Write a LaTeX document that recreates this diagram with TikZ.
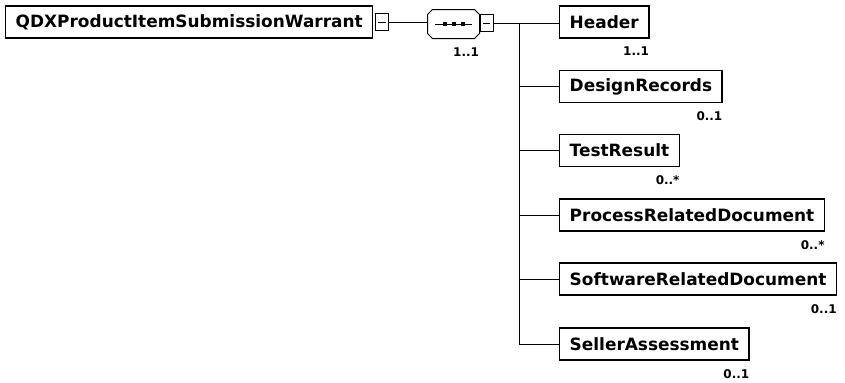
\documentclass[tikz,border=0pt]{standalone}
\usepackage{fontspec}
\setmainfont{DejaVu Sans}
\tikzset{every picture/.style={line width=0.75pt}}
\tikzset{
  elem/.style={draw, line width=1.1pt, fill=white, anchor=west, inner xsep=7.5pt, inner ysep=0pt, minimum height=24pt, font=\fontsize{12.7}{14}\selectfont\bfseries},
  occurs/.style={anchor=north east, inner sep=0pt, font=\fontsize{9}{10}\selectfont\bfseries},
  minusbox/.style={draw, fill=white, anchor=west, minimum width=10pt, minimum height=13pt, inner sep=0pt,
    path picture={\draw ([xshift=2.25pt]path picture bounding box.west) -- ([xshift=-2.25pt]path picture bounding box.east);}},
}
\begin{document}
\begin{tikzpicture}[x=0.75pt,y=0.75pt,yscale=-1,xscale=1]
\useasboundingbox (0,0) rectangle (845,382);

%Root element
\node [elem] (warrant) at (5,22) {QDXProductItemSubmissionWarrant};
\node [minusbox] (warrantminus) at ([xshift=1pt]warrant.east) {};

%Sequence compositor
\node [minimum width=38.25pt, minimum height=21pt, inner sep=0pt] (seq) at (453.5,24) {};
\draw [fill=white] ([xshift=3.75pt]seq.north west) -- ([xshift=-3.75pt]seq.north east) -- ([yshift=3.75pt]seq.north east) -- ([yshift=-3.75pt]seq.south east) -- ([xshift=-3.75pt]seq.south east) -- ([xshift=3.75pt]seq.south west) -- ([yshift=-3.75pt]seq.south west) -- ([yshift=3.75pt]seq.north west) -- cycle ;
\draw (435,24) -- (472,24) ;
\fill (443,22) rectangle (447,26) ;
\fill (452,22) rectangle (456,26) ;
\fill (461,22) rectangle (465,26) ;
\node [minusbox] (seqminus) at (seq.east |- 0,23) {};
\node [occurs] (seqocc) at ([yshift=6.5pt]seq.south east) {1..1};

%Child elements
\node [elem] (header) at (559,22) {Header};
\node [elem] (design) at (559,86.5) {DesignRecords};
\node [elem] (test) at (559,150.5) {TestResult};
\node [elem] (process) at (559,215) {ProcessRelatedDocument};
\node [elem] (software) at (559,279) {SoftwareRelatedDocument};
\node [elem] (seller) at (559,344) {SellerAssessment};

% Occurrence labels
\node [occurs] (headerocc) at ([yshift=6pt]header.south east) {1..1};
\node [occurs] (designocc) at ([yshift=6pt]design.south east) {0..1};
\node [occurs] (testocc) at ([yshift=6pt]test.south east) {0..*};
\node [occurs] (processocc) at ([yshift=6pt]process.south east) {0..*};
\node [occurs] (softwareocc) at ([yshift=6pt]software.south east) {0..1};
\node [occurs] (sellerocc) at ([yshift=6pt]seller.south east) {0..1};

%Connectors
\coordinate (fork) at (519,23);
\draw (warrantminus.east) -- (warrantminus.east -| seq.west) ;
\draw (seqminus.east) -- (fork) ;
\draw (fork) -- (fork -| header.west) ;
\draw (fork) |- (seller.west) ;
\draw (fork |- design.west) -- (design.west) ;
\draw (fork |- test.west) -- (test.west) ;
\draw (fork |- process.west) -- (process.west) ;
\draw (fork |- software.west) -- (software.west) ;

\end{tikzpicture}
\end{document}
